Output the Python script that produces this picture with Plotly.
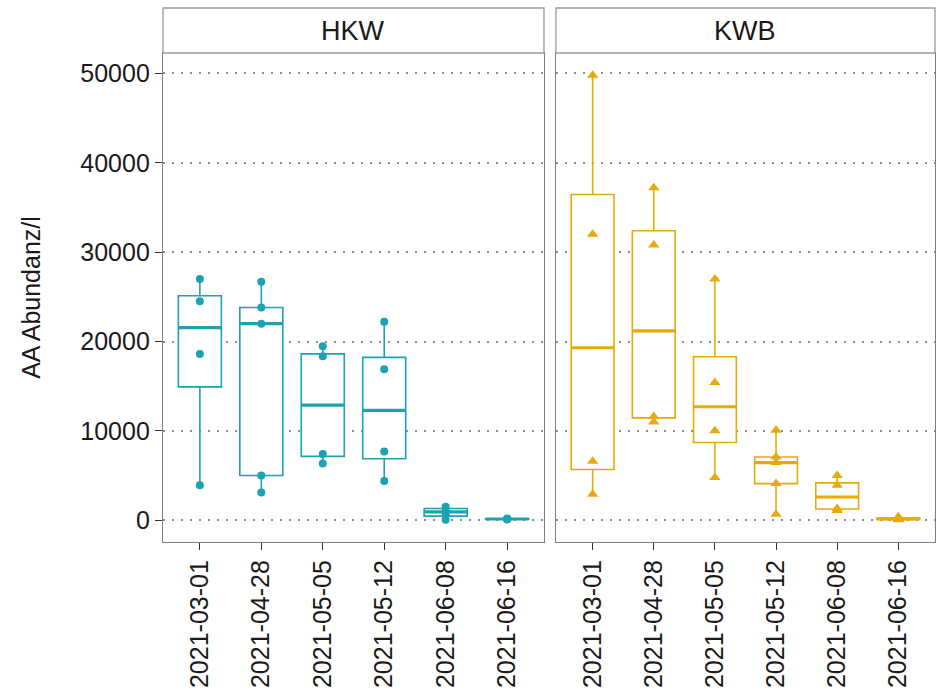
import numpy as np
import plotly.graph_objects as go

dates = ["2021-03-01", "2021-04-28", "2021-05-05", "2021-05-12", "2021-06-08", "2021-06-16"]

hkw_values = {
    "2021-03-01": [27000, 24500, 18600, 3900],
    "2021-04-28": [26700, 23800, 22000, 5000, 3100],
    "2021-05-05": [19460, 18340, 7420, 6340],
    "2021-05-12": [22200, 16900, 7700, 4400],
    "2021-06-08": [1500, 1250, 600, 50],
    "2021-06-16": [200, 150, 120, 80],
}
kwb_values = {
    "2021-03-01": [49800, 32000, 6600, 2900],
    "2021-04-28": [37200, 30800, 11600, 11000],
    "2021-05-05": [27000, 15400, 10000, 4770],
    "2021-05-12": [10060, 7080, 6450, 4100, 670],
    "2021-06-08": [5000, 3900, 1300, 1100],
    "2021-06-16": [400, 200, 100, 50],
}
sites = ["HKW", "KWB"]
colors = {"HKW": "#1BA3B1", "KWB": "#E6AB0A"}
symbols = {"HKW": "circle", "KWB": "triangle-up"}
data = {"HKW": hkw_values, "KWB": kwb_values}

y_tickvals = [0, 10000, 20000, 30000, 40000, 50000]


def stats(vals):
    v = np.array(vals, dtype=float)
    q1, med, q3 = np.percentile(v, [25, 50, 75])
    iqr = q3 - q1
    lo = v[v >= q1 - 1.5 * iqr].min()
    hi = v[v <= q3 + 1.5 * iqr].max()
    return q1, med, q3, lo, hi


fig = go.Figure()
all_vals = []
for i, site in enumerate(sites):
    xa = "x" if i == 0 else "x2"
    ya = "y" if i == 0 else "y2"
    col = colors[site]
    Q1, MED, Q3, LO, HI = [], [], [], [], []
    for d in dates:
        q1, med, q3, lo, hi = stats(data[site][d])
        Q1.append(q1); MED.append(med); Q3.append(q3); LO.append(lo); HI.append(hi)
        all_vals += data[site][d]
    fig.add_trace(go.Box(
        x=dates, q1=Q1, median=MED, q3=Q3, lowerfence=LO, upperfence=HI,
        xaxis=xa, yaxis=ya, width=0.7, boxpoints=False,
        line=dict(color=col, width=1.6), fillcolor="white",
        whiskerwidth=0, showlegend=False, hoverinfo="skip",
    ))
    fig.add_trace(go.Box(
        x=dates, q1=MED, median=MED, q3=MED, lowerfence=MED, upperfence=MED,
        xaxis=xa, yaxis=ya, width=0.7, boxpoints=False,
        line=dict(color=col, width=3.2), fillcolor="rgba(0,0,0,0)",
        whiskerwidth=0, showlegend=False, hoverinfo="skip",
    ))
    px, py = [], []
    for d in dates:
        for v in data[site][d]:
            px.append(d); py.append(v)
    fig.add_trace(go.Scatter(
        x=px, y=py, mode="markers", xaxis=xa, yaxis=ya,
        marker=dict(color=col, size=8 if site == "HKW" else 10, symbol=symbols[site]),
        showlegend=False, hoverinfo="skip", cliponaxis=False,
    ))

vmin, vmax = min(all_vals), max(all_vals)
span = vmax - vmin
yrange = [vmin - 0.05 * span, vmax + 0.05 * span]

font = "Liberation Sans, Arial, sans-serif"
axis_common = dict(
    showline=True, mirror=True, linecolor="#7f7f7f", linewidth=1.3,
    zeroline=False,
)
grid = dict(showgrid=True, gridcolor="#8c8c8c", griddash="2px,7px", gridwidth=1.6)
d1 = [0, 0.4935]
d2 = [0.509, 1]
fig.update_layout(
    width=941, height=695,
    margin=dict(l=163, r=6, t=53, b=153),
    paper_bgcolor="white", plot_bgcolor="white",
    boxmode="overlay",
    font=dict(family=font, size=25, color="#1a1a1a"),
    xaxis=dict(domain=d1, type="category", categoryorder="array", categoryarray=dates,
               range=[-0.6, 5.6], tickangle=-90, ticks="outside", ticklen=7,
               tickcolor="#333333", tickwidth=1.3, showgrid=False,
               tickfont=dict(size=25, color="#1a1a1a"), **axis_common),
    xaxis2=dict(domain=d2, type="category", categoryorder="array", categoryarray=dates,
                range=[-0.6, 5.6], tickangle=-90, ticks="outside", ticklen=7,
                tickcolor="#333333", tickwidth=1.3, showgrid=False,
                tickfont=dict(size=25, color="#1a1a1a"), anchor="y2", **axis_common),
    yaxis=dict(range=yrange, tickvals=y_tickvals, ticktext=[str(v) for v in y_tickvals],
               ticks="outside", ticklen=7, tickcolor="#333333", tickwidth=1.3,
               tickfont=dict(size=25, color="#1a1a1a"),
               title=dict(text="AA Abundanz/l", font=dict(size=25, color="#1a1a1a"), standoff=32),
               **grid, **axis_common),
    yaxis2=dict(range=yrange, tickvals=y_tickvals, showticklabels=False, ticks="",
                anchor="x2", **grid, **axis_common),
)

strip_h = 45 / (695 - 53 - 153)
for i, site in enumerate(sites):
    dom = d1 if i == 0 else d2
    fig.add_shape(type="rect", xref="paper", yref="paper",
                  x0=dom[0], x1=dom[1], y0=1, y1=1 + strip_h,
                  line=dict(color="#9a9a9a", width=1.3), fillcolor="white")
    fig.add_annotation(text=site, xref="paper", yref="paper",
                       x=(dom[0] + dom[1]) / 2, y=1 + strip_h / 2,
                       showarrow=False, font=dict(size=27, color="#1a1a1a"),
                       xanchor="center", yanchor="middle")

fig.write_html("out.html", config={"displayModeBar": False},
               post_script="document.body.style.margin='0';document.body.style.overflow='hidden';")
